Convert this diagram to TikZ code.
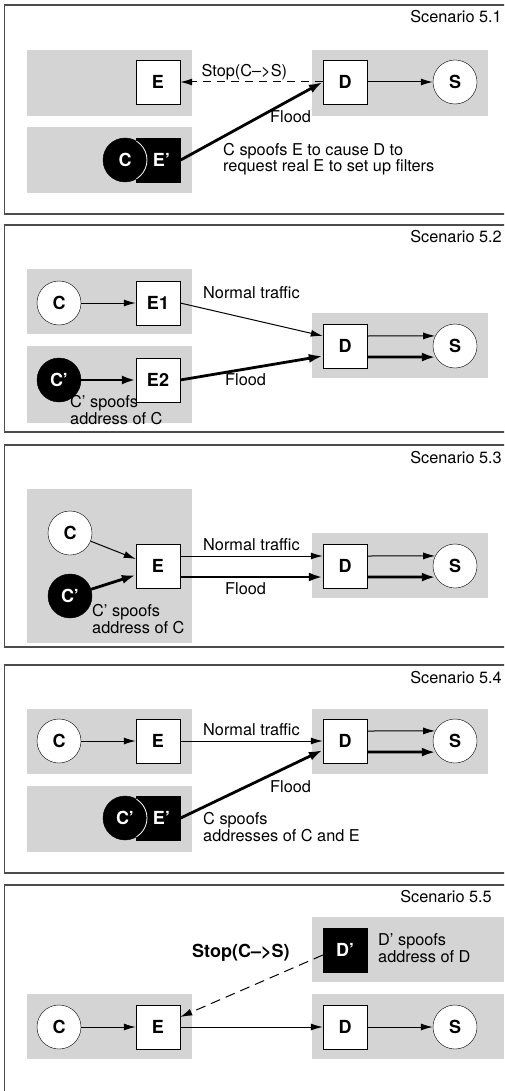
\documentclass[tikz,border=0pt]{standalone}
\usepackage{fontspec}
\setmainfont{TeX Gyre Heros}
\usetikzlibrary{arrows.meta}
\definecolor{zonegray}{gray}{0.83}
\newcommand{\boxfont}{\fontsize{18}{18}\selectfont\bfseries}
\newcommand{\notefont}{\fontsize{16.3}{15}\selectfont}

\begin{document}
\begin{tikzpicture}[x=1pt,y=-1pt]
\tikzstyle{box}=[rectangle, draw, fill=white, minimum width=44pt, minimum height=44pt, inner sep=0pt, font=\boxfont]
\tikzstyle{host}=[circle, draw, fill=white, minimum size=44pt, inner sep=0pt, font=\boxfont]
\tikzstyle{bad}=[fill=black, text=white]
\tikzstyle{zone}=[fill=zonegray]
\tikzstyle{frame}=[draw=black!70, line width=1.3pt]
\tikzstyle{flow}=[-{Latex[length=12pt,width=7pt]}, line width=1pt]
\tikzstyle{flood}=[-{Latex[length=14pt,width=9pt]}, line width=2.8pt]
\tikzstyle{note}=[font=\notefont, align=left, inner sep=0pt, anchor=west]
\tikzstyle{title}=[font=\notefont, inner sep=0pt, anchor=base east]
\useasboundingbox (0,0) rectangle (504,1091);
\clip (0,0) rectangle (504,1091);
\fill[white] (0,0) rectangle (504,1091);

% Scenario 5.1
\begin{scope}[shift={(0,5)}]
\draw[frame] (4.5,0) rectangle (520,209);
\node[title] (title) at (502,18) {Scenario 5.1};
\fill[zone] (27,45) rectangle (192,111);
\fill[zone] (27,122) rectangle (192,188);
\fill[zone] (312,45) rectangle (488,111);
\node[box] (E) at (158,77) {E};
\node[box] (D) at (345,77) {D};
\node[host] (S) at (455,77) {S};
\node[box,bad] (Es) at (158.5,155) {\hspace*{6pt}E’};
\node[host,bad] (C) at (125,155) {C};
\begin{scope}
\clip (Es.south west) rectangle (Es.north east);
\draw[white, line width=0.8pt] (C.center) circle[radius=22];
\end{scope}
\draw[flow] (D) -- (S);
\draw[flow, dash pattern=on 8pt off 6pt] (D.west) -- (E.east)
  node[pos=0.55, above=1pt, font=\notefont, inner sep=0pt] {Stop(C–>S)};
\draw[flood] (Es.east) -- (D.west);
\node[note] (flood) at (270,112) {Flood};
\node[note] (why) at (223,154) {C spoofs E to cause D to\\request real E to set up filters};
\end{scope}

% Scenario 5.2
\begin{scope}[shift={(0,225)}]
\draw[frame] (4.5,0) rectangle (520,207);
\node[title] (title) at (502,18) {Scenario 5.2};
\fill[zone] (27,44) rectangle (192,109);
\fill[zone] (27,121) rectangle (192,198);
\fill[zone] (312,88) rectangle (488,153);
\node[host] (C) at (59,78) {C};
\node[box] (E1) at (158,78) {E1};
\node[host,bad] (Cs) at (59,155) {C’};
\node[box] (E2) at (158,155) {E2};
\node[box] (D) at (345,121) {D};
\node[host] (S) at (455,121) {S};
\draw[flow] (C) -- (E1);
\draw[flood] (Cs) -- (E2);
\draw[flow] (E1.east) -- ([yshift=10pt]D.west);
\draw[flood] (E2.east) -- ([yshift=-10pt]D.west);
\draw[flow] ([yshift=10pt]D.east) -- (S.153);
\draw[flood] ([yshift=-11pt]D.east) -- (S.210);
\node[note] (normal) at (203,68) {Normal traffic};
\node[note] (flood) at (225,155) {Flood};
\node[note] (why) at (70,185) {C’ spoofs\\address of C};
\end{scope}

% Scenario 5.3
\begin{scope}[shift={(0,445)}]
\draw[frame] (4.5,0) rectangle (520,202);
\node[title] (title) at (502,18) {Scenario 5.3};
\fill[zone] (27,44) rectangle (192,198);
\fill[zone] (312,88) rectangle (488,153);
\node[host] (C) at (70,88) {C};
\node[host,bad] (Cs) at (70,151) {C’};
\node[box] (E) at (158,121) {E};
\node[box] (D) at (345,121) {D};
\node[host] (S) at (455,121) {S};
\draw[flow] (C) -- ([yshift=7pt]E.west);
\draw[flood] (Cs) -- ([yshift=-9pt]E.west);
\draw[flow] ([yshift=10pt]E.east) -- ([yshift=10pt]D.west);
\draw[flood] ([yshift=-11pt]E.east) -- ([yshift=-11pt]D.west);
\draw[flow] ([yshift=10pt]D.east) -- (S.153);
\draw[flood] ([yshift=-11pt]D.east) -- (S.210);
\node[note] (normal) at (203,100) {Normal traffic};
\node[note] (flood) at (225,144) {Flood};
\node[note] (why) at (92,174) {C’ spoofs\\address of C};
\end{scope}

% Scenario 5.4
\begin{scope}[shift={(0,665)}]
\draw[frame] (4.5,0) rectangle (520,208);
\node[title] (title) at (502,18) {Scenario 5.4};
\fill[zone] (27,44) rectangle (192,109);
\fill[zone] (27,121) rectangle (192,187);
\fill[zone] (312,44) rectangle (488,109);
\node[host] (C) at (59,76) {C};
\node[box] (E) at (158,76) {E};
\node[box] (D) at (345,76) {D};
\node[host] (S) at (455,76) {S};
\node[box,bad] (Es) at (158.5,153) {\hspace*{6pt}E’};
\node[host,bad] (Cs) at (125,153) {C’};
\begin{scope}
\clip (Es.south west) rectangle (Es.north east);
\draw[white, line width=0.8pt] (Cs.center) circle[radius=22];
\end{scope}
\draw[flow] (C) -- (E);
\draw[flow] (E) -- (D);
\draw[flow] ([yshift=10pt]D.east) -- (S.153);
\draw[flood] ([yshift=-11pt]D.east) -- (S.210);
\draw[flood] (Es.east) -- ([yshift=-9pt]D.west);
\node[note] (normal) at (203,65) {Normal traffic};
\node[note] (flood) at (270,122) {Flood};
\node[note] (why) at (203,162) {C spoofs\\addresses of C and E};
\end{scope}

% Scenario 5.5
\begin{scope}[shift={(0,885)}]
\draw[frame] (4.5,0) rectangle (520,240);
\node[title] (title) at (492,17) {Scenario 5.5};
\fill[zone] (312,32) rectangle (504,97);
\fill[zone] (27,109) rectangle (192,174);
\fill[zone] (312,109) rectangle (504,174);
\node[box,bad] (Ds) at (345,65) {D’};
\node[host] (C) at (59,142) {C};
\node[box] (E) at (158,142) {E};
\node[box] (D) at (345,142) {D};
\node[host] (S) at (455,142) {S};
\draw[flow] (C) -- (E);
\draw[flow] (E) -- (D);
\draw[flow] (D) -- (S);
\draw[flow, dash pattern=on 10pt off 6pt] ([yshift=-5pt]Ds.west) -- ([yshift=10pt]E.east);
\node[note, font=\fontsize{18}{18}\selectfont\bfseries] (stop) at (192,68) {Stop(C–>S)};
\node[note] (why) at (378,63) {D’ spoofs\\address of D};
\end{scope}
\end{tikzpicture}
\end{document}
